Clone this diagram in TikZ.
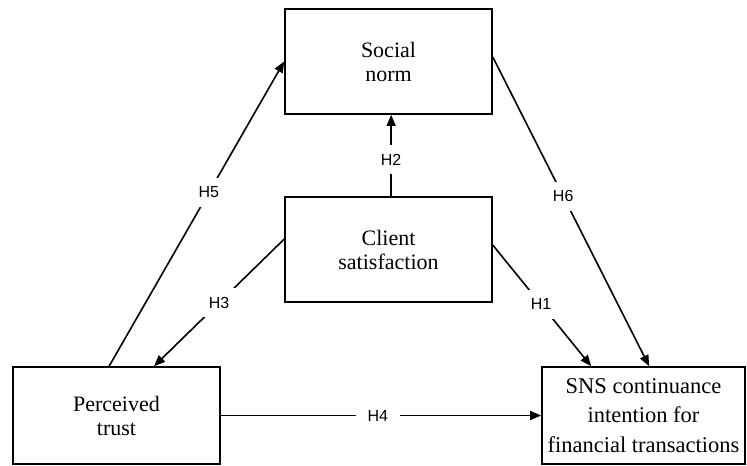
\documentclass[tikz,border=0pt]{standalone}
\usepackage{fontspec}
\setmainfont{Liberation Serif}
\newfontfamily\labelfont{Liberation Sans}
\usetikzlibrary{arrows.meta,calc}
\begin{document}
\begin{tikzpicture}[x=1bp,y=-1bp,
  box/.style={draw, line width=1.7bp, rectangle, align=center, inner sep=0pt,
    font=\fontsize{22bp}{24bp}\selectfont},
  conn/.style={line width=1.6bp, -{Triangle[length=11bp,width=9bp]}},
  hlab/.style={fill=white, font=\labelfont\fontsize{16bp}{18bp}\selectfont,
    inner xsep=12bp, inner ysep=9bp}
]
\fill[white] (0,0) rectangle (747,466);
\useasboundingbox (0,0) rectangle (747,466);

\node[box, minimum width=207bp, minimum height=105bp] (sn) at (388.5,61.5) {Social\\norm};
\node[box, minimum width=207bp, minimum height=105bp] (cs) at (388.5,249.5) {Client\\satisfaction};
\node[box, minimum width=207bp, minimum height=97bp] (pt) at (116.5,415.5) {Perceived\\trust};
\node[box, minimum width=203bp, minimum height=97bp,
  font=\fontsize{22.5bp}{29.5bp}\selectfont] (sns) at (643.5,415.5)
  {SNS continuance\\intention for\\financial transactions};

\coordinate (h5s) at ($(pt.north west)+(97,0)$);
\coordinate (h3s) at ($(cs.north west)+(0,43)$);
\coordinate (h3e) at ($(pt.north west)+(142,0)$);
\coordinate (h2s) at ($(cs.north west)+(107,0)$);
\coordinate (h2e) at ($(sn.south west)+(107,0)$);
\coordinate (h6s) at ($(sn.north east)+(0,49)$);
\coordinate (h6e) at ($(sns.north west)+(108,0)$);
\coordinate (h1s) at ($(cs.north east)+(0,49)$);
\coordinate (h1e) at ($(sns.north west)+(50,0)$);

\draw[conn] (h5s) -- node[hlab, pos=0.57] {H5} (sn.west);
\draw[conn] (h3s) -- node[hlab, pos=0.5] {H3} (h3e);
\draw[conn] (h2s) -- node[hlab, pos=0.45] {H2} (h2e);
\draw[conn] (h6s) -- node[hlab, pos=0.45] {H6} (h6e);
\draw[conn] (h1s) -- node[hlab, pos=0.49] {H1} (h1e);
\draw[conn] (pt.east) -- node[hlab, pos=0.49] {H4} (sns.west);
\end{tikzpicture}
\end{document}
